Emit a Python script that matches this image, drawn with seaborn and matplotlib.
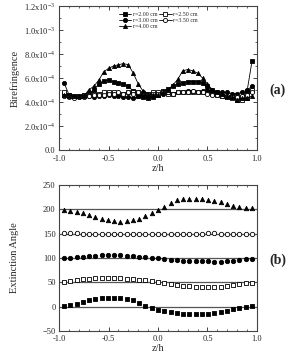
import matplotlib
matplotlib.use("Agg")
import matplotlib.pyplot as plt
import seaborn as sns
import pandas as pd
from matplotlib.ticker import MultipleLocator, FuncFormatter

sns.set_style("ticks")
plt.rcParams['font.family'] = ['Liberation Serif', 'DejaVu Serif']
plt.rcParams['mathtext.fontset'] = 'custom'
plt.rcParams['mathtext.rm'] = 'Liberation Serif'

labels = ["r=2.00 cm", "r=2.50 cm", "r=3.00 cm", "r=3.50 cm", "r=4.00 cm"]

# Panel (a): birefringence (x1e-4)
z_a = [-0.95, -0.90, -0.85, -0.80, -0.75, -0.70, -0.65, -0.60, -0.55, -0.50,
       -0.45, -0.40, -0.35, -0.30, -0.25, -0.20, -0.15, -0.10, -0.05, 0.00,
       0.05, 0.10, 0.15, 0.20, 0.25, 0.30, 0.35, 0.40, 0.45, 0.50,
       0.55, 0.60, 0.65, 0.70, 0.75, 0.80, 0.85, 0.90, 0.95]
bire_200 = [4.7, 4.6, 4.5, 4.5, 4.6, 4.7, 5.0, 5.5, 5.75, 5.8,
            5.7, 5.6, 5.5, 5.3, 4.9, 4.5, 4.4, 4.3, 4.4, 4.6,
            4.9, 5.1, 5.3, 5.5, 5.6, 5.7, 5.7, 5.7, 5.6, 5.3,
            5.0, 4.8, 4.5, 4.4, 4.4, 4.3, 4.4, 4.9, 7.4]
bire_250 = [4.8, 4.6, 4.5, 4.5, 4.6, 4.6, 4.7, 4.7, 4.8, 4.8,
            4.8, 4.7, 4.7, 4.8, 4.8, 4.8, 4.7, 4.7, 4.8, 4.8,
            4.8, 4.7, 4.7, 4.8, 4.8, 4.8, 4.8, 4.8, 4.8, 4.8,
            4.7, 4.6, 4.5, 4.4, 4.3, 4.2, 4.2, 4.3, 5.0]
bire_300 = [5.6, 4.6, 4.4, 4.4, 4.5, 4.5, 4.4, 4.5, 4.5, 4.6,
            4.5, 4.5, 4.4, 4.4, 4.3, 4.5, 4.6, 4.5, 4.6, 4.6,
            4.7, 4.8, 4.7, 4.8, 4.8, 4.9, 4.9, 4.8, 4.9, 5.0,
            4.9, 4.8, 4.8, 4.8, 4.7, 4.7, 4.8, 5.0, 5.3]
bire_350 = [4.5, 4.4, 4.3, 4.4, 4.4, 4.5, 4.6, 4.6, 4.6, 4.7,
            4.7, 4.8, 4.7, 4.8, 4.7, 4.8, 4.8, 4.7, 4.7, 4.7,
            4.8, 4.8, 4.7, 4.8, 4.8, 4.8, 4.9, 4.8, 4.8, 4.7,
            4.6, 4.6, 4.5, 4.5, 4.4, 4.4, 4.5, 4.6, 4.8]
bire_400 = [4.6, 4.5, 4.5, 4.5, 4.5, 5.0, 5.3, 5.8, 6.5, 6.8,
            7.0, 7.1, 7.2, 7.1, 6.4, 5.5, 4.9, 4.7, 4.6, 4.6,
            4.8, 5.0, 5.4, 5.9, 6.6, 6.7, 6.6, 6.4, 6.0, 5.5,
            5.0, 4.8, 4.7, 4.5, 4.4, 4.2, 4.3, 4.3, 4.5]

# Panel (b): extinction angle
z_b = [-0.95, -0.887, -0.823, -0.76, -0.697, -0.633, -0.57, -0.507, -0.443, -0.38,
       -0.317, -0.253, -0.19, -0.127, -0.063, 0.0, 0.063, 0.127, 0.19, 0.253,
       0.317, 0.38, 0.443, 0.507, 0.57, 0.633, 0.697, 0.76, 0.823, 0.887, 0.95]
ext_200 = [1, 3, 6, 10, 13, 16, 17, 18, 18, 17,
           16, 13, 8, 2, -3, -6, -9, -11, -13, -14,
           -15, -15, -15, -14, -13, -11, -8, -5, -2, 0, 1]
ext_250 = [51, 53, 55, 57, 58, 59, 60, 60, 60, 59,
           58, 57, 56, 54, 52, 50, 48, 46, 45, 43,
           42, 41, 40, 40, 40, 41, 42, 44, 46, 48, 49]
ext_300 = [100, 101, 102, 103, 104, 105, 106, 106, 106, 106,
           105, 104, 103, 102, 101, 100, 98, 97, 96, 95,
           95, 94, 94, 94, 93, 93, 94, 95, 96, 98, 99]
ext_350 = [151, 151, 151, 150, 150, 150, 150, 149, 149, 149,
           149, 149, 149, 149, 149, 149, 150, 150, 150, 150,
           150, 150, 150, 151, 151, 150, 150, 150, 150, 150, 150]
ext_400 = [198, 197, 195, 192, 189, 185, 181, 178, 177, 175,
           177, 178, 181, 186, 192, 198, 206, 214, 219, 221,
           222, 222, 221, 220, 218, 215, 211, 207, 205, 203, 202]
baselines = [0, 50, 100, 150, 200]

markers = ['s', 's', 'o', 'o', '^']
filled = [True, False, True, False, True]

fig = plt.figure(figsize=(2.94, 3.56), dpi=100)
ax1 = fig.add_axes([0.201, 0.579, 0.673, 0.404])
ax2 = fig.add_axes([0.201, 0.070, 0.673, 0.410])

bire = [bire_200, bire_250, bire_300, bire_350, bire_400]
for lab, vals, m, f in zip(labels, bire, markers, filled):
    df = pd.DataFrame({"z": z_a, "b": [v * 1e-4 for v in vals]})
    sns.lineplot(data=df, x="z", y="b", ax=ax1, color="black", lw=0.6,
                 marker=m, markersize=3.0, markeredgewidth=0.6,
                 markerfacecolor="black" if f else "white",
                 markeredgecolor="black", label=lab, sort=False)

ax1.set_xlim(-1.0, 1.0)
ax1.set_ylim(0, 1.2e-3)
ax1.xaxis.set_major_locator(MultipleLocator(0.5))
ax1.xaxis.set_minor_locator(MultipleLocator(0.1))
ax1.yaxis.set_major_locator(MultipleLocator(2e-4))
ax1.yaxis.set_minor_locator(MultipleLocator(1e-4))


def sci(v, pos):
    if abs(v) < 1e-12:
        return "0.0"
    e = int(f"{v:e}".split("e")[1])
    m = v / 10 ** e
    return f"{m:.1f}x10$^{{{e}}}$"


ax1.yaxis.set_major_formatter(FuncFormatter(sci))
ax1.xaxis.set_major_formatter(FuncFormatter(lambda v, p: f"{v:.1f}"))
ax1.set_xlabel("z/h", fontsize=7.5, labelpad=1)
ax1.set_ylabel("Birefringence", fontsize=7.5, labelpad=3)

h, l = ax1.get_legend_handles_labels()
order = [0, 2, 4, 1, 3]
leg = ax1.legend([h[i] for i in order], [l[i] for i in order],
                 loc="upper center", bbox_to_anchor=(0.5, 0.99), ncol=2,
                 frameon=False, fontsize=4.2, handlelength=2.2,
                 handletextpad=0.2, columnspacing=0.3, labelspacing=0.15,
                 borderpad=0.2)

ext = [ext_200, ext_250, ext_300, ext_350, ext_400]
for base in baselines:
    ax2.axhline(base, color="#555555", lw=0.9, zorder=1)
for lab, vals, m, f in zip(labels, ext, markers, filled):
    df = pd.DataFrame({"z": z_b, "e": vals})
    sns.scatterplot(data=df, x="z", y="e", ax=ax2, marker=m, s=10,
                    facecolor="black" if f else "white",
                    edgecolor="black", linewidth=0.6, zorder=3, legend=False)

ax2.set_xlim(-1.0, 1.0)
ax2.set_ylim(-50, 250)
ax2.xaxis.set_major_locator(MultipleLocator(0.5))
ax2.xaxis.set_minor_locator(MultipleLocator(0.1))
ax2.yaxis.set_major_locator(MultipleLocator(50))
ax2.xaxis.set_major_formatter(FuncFormatter(lambda v, p: f"{v:.1f}"))
ax2.set_xlabel("z/h", fontsize=7.5, labelpad=1)
ax2.set_ylabel("Extinction Angle", fontsize=7.5, labelpad=17)

for ax in (ax1, ax2):
    ax.tick_params(which="both", direction="in", top=True, right=True,
                   labelsize=6, pad=2.5)
    ax.tick_params(which="major", length=3, width=0.6)
    ax.tick_params(which="minor", length=1.5, width=0.5)
    for s in ax.spines.values():
        s.set_linewidth(0.8)
        s.set_color("#444444")
ax1.tick_params(axis="x", pad=3.5)

fig.text(0.945, 0.747, "(a)", fontsize=10, fontweight="bold",
         ha="center", va="center")
fig.text(0.945, 0.27, "(b)", fontsize=10, fontweight="bold",
         ha="center", va="center")

fig.savefig("out.png", dpi=100)
